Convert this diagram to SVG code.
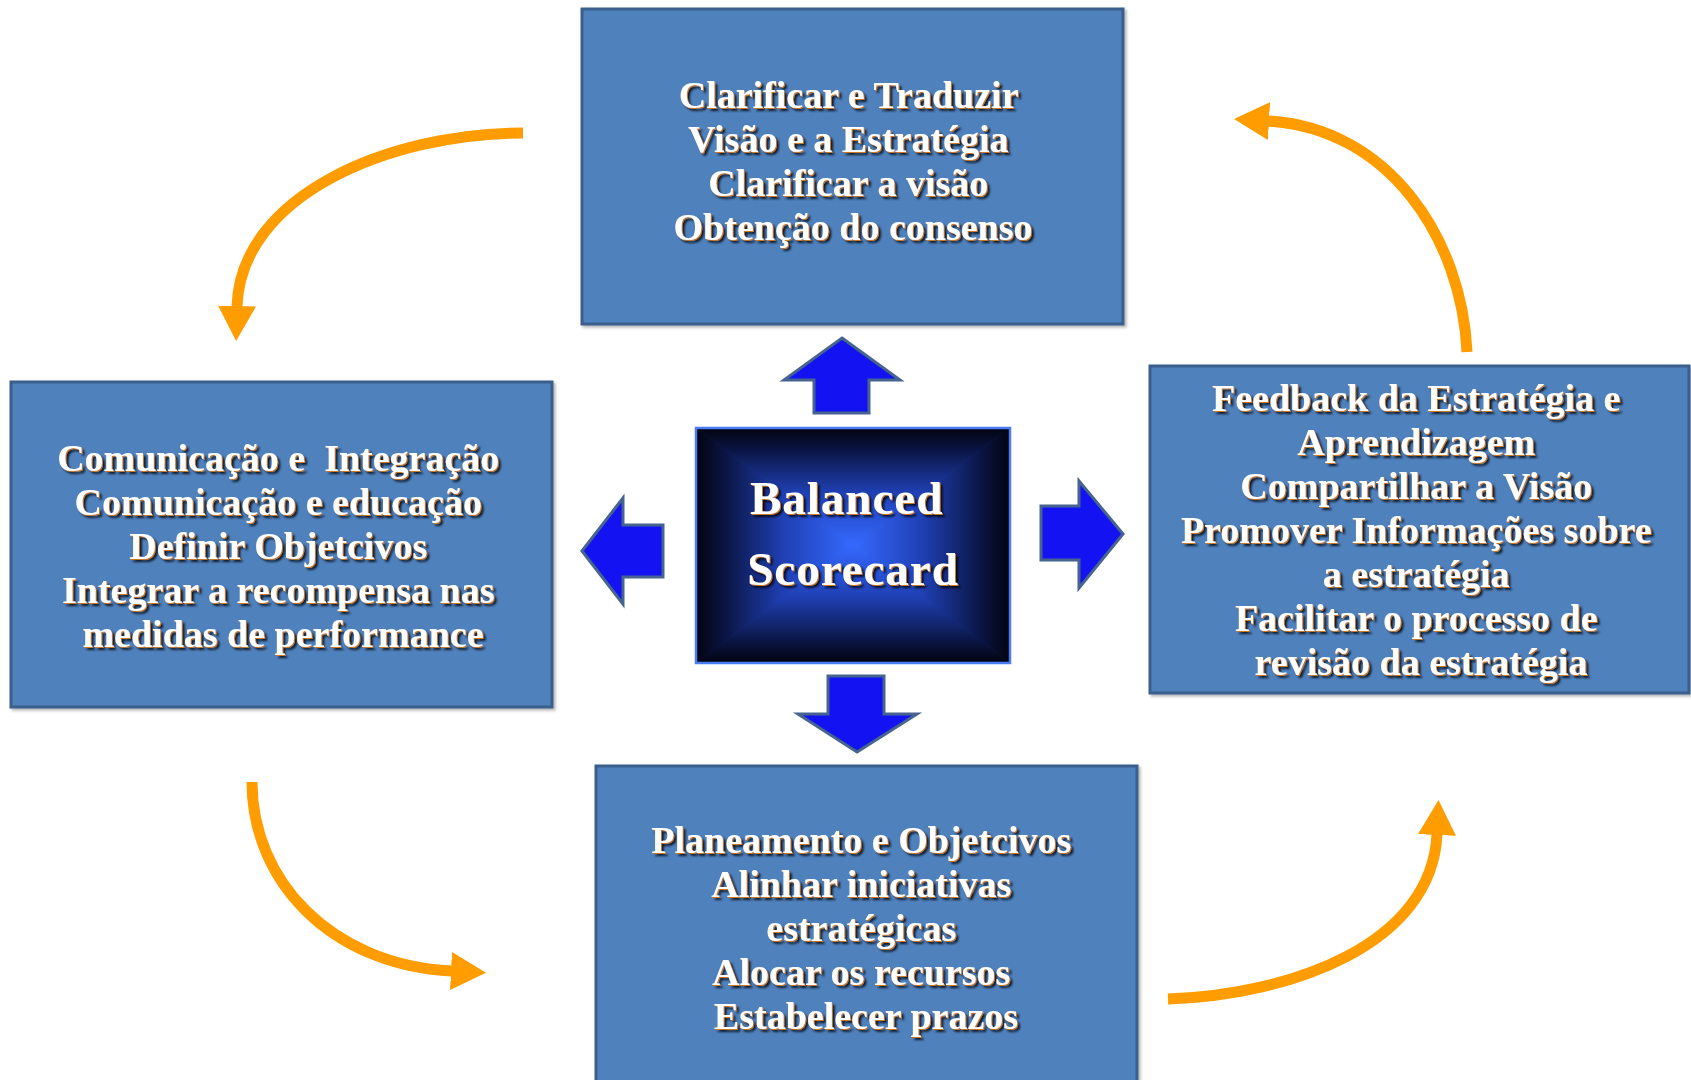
<svg xmlns="http://www.w3.org/2000/svg" width="1691" height="1080" viewBox="0 0 1691 1080">
  <defs>
    <style>
      .box { fill: #4f81bd; stroke: #3b5e8c; stroke-width: 3; filter: url(#boxShadow); }
      .label { font-family: "Liberation Serif", "Times New Roman", serif; font-weight: bold; font-size: 38px; fill: #ffffff; text-anchor: middle; filter: url(#emboss); }
      .core { font-size: 47px; letter-spacing: 1px; }
      .push { fill: #1212f2; stroke: #46648f; stroke-width: 3; stroke-linejoin: miter; }
      .cycle { fill: none; stroke: #ff9c00; stroke-width: 11; marker-end: url(#tip); }
    </style>
    <marker id="tip" viewBox="0 0 35 38" refX="1" refY="19" markerWidth="35" markerHeight="38" markerUnits="userSpaceOnUse" orient="auto">
      <path d="M0,0 L35,19 L0,38 Z" fill="#ff9c00"/>
    </marker>
    <filter id="boxShadow" x="-5%" y="-5%" width="115%" height="115%">
      <feDropShadow dx="2" dy="2" stdDeviation="1.5" flood-color="#000" flood-opacity="0.3"/>
    </filter>
    <filter id="emboss" x="-5%" y="-20%" width="115%" height="150%">
      <feOffset in="SourceAlpha" dx="2.5" dy="2.5" result="o1"/>
      <feGaussianBlur in="o1" stdDeviation="1" result="b1"/>
      <feFlood flood-color="#000" flood-opacity="0.8"/>
      <feComposite in2="b1" operator="in" result="sh"/>
      <feOffset in="SourceAlpha" dx="1" dy="1" result="o2"/>
      <feFlood flood-color="#c9782c"/>
      <feComposite in2="o2" operator="in" result="warm"/>
      <feMerge>
        <feMergeNode in="sh"/>
        <feMergeNode in="warm"/>
        <feMergeNode in="SourceGraphic"/>
      </feMerge>
    </filter>
    <!-- rectangular path gradient of the core box, built from four edge-to-centre wedges -->
    <linearGradient id="gTop" gradientUnits="userSpaceOnUse" x1="0" y1="428" x2="0" y2="545">
      <stop offset="0" stop-color="#02040f"/>
      <stop offset="0.18" stop-color="#0a1442"/>
      <stop offset="0.55" stop-color="#1f3fb2"/>
      <stop offset="1" stop-color="#3569ff"/>
    </linearGradient>
    <linearGradient id="gBottom" gradientUnits="userSpaceOnUse" x1="0" y1="663" x2="0" y2="545">
      <stop offset="0" stop-color="#02040f"/>
      <stop offset="0.18" stop-color="#0a1442"/>
      <stop offset="0.55" stop-color="#1f3fb2"/>
      <stop offset="1" stop-color="#3569ff"/>
    </linearGradient>
    <linearGradient id="gLeft" gradientUnits="userSpaceOnUse" x1="696" y1="0" x2="853" y2="0">
      <stop offset="0" stop-color="#02040f"/>
      <stop offset="0.18" stop-color="#0a1442"/>
      <stop offset="0.55" stop-color="#1f3fb2"/>
      <stop offset="1" stop-color="#3569ff"/>
    </linearGradient>
    <linearGradient id="gRight" gradientUnits="userSpaceOnUse" x1="1010" y1="0" x2="853" y2="0">
      <stop offset="0" stop-color="#02040f"/>
      <stop offset="0.18" stop-color="#0a1442"/>
      <stop offset="0.55" stop-color="#1f3fb2"/>
      <stop offset="1" stop-color="#3569ff"/>
    </linearGradient>
  </defs>

  <rect width="1691" height="1080" fill="#ffffff"/>

  <!-- cycle arrows between the four perspectives -->
  <g id="connectors">
    <path class="cycle" d="M523,133 C390,133 240,195 237,307"/>
    <path class="cycle" d="M1467,352 C1462,240 1390,128 1268,121"/>
    <path class="cycle" d="M252,782 C252,880 330,965 452,971"/>
    <path class="cycle" d="M1168,999 C1290,995 1432,945 1437,834"/>
    <!-- block arrows pushing out from the core -->
    <polygon class="push" points="842,338 900,380 869,380 869,413 814,413 814,380 784,380"/>
    <polygon class="push" points="582,551 623,498 623,525 663,525 663,577 623,577 623,604"/>
    <polygon class="push" points="1123,534 1079,481 1079,506 1041,506 1041,560 1079,560 1079,588"/>
    <polygon class="push" points="857,752 917,714 884,714 884,676 828,676 828,714 798,714"/>
  </g>

  <g id="node-top">
    <rect class="box" x="582" y="9" width="541" height="315"/>
    <text class="label" x="853">
      <tspan x="853" y="108">Clarificar e Traduzir</tspan>
      <tspan x="853" y="152">Visão e a Estratégia</tspan>
      <tspan x="853" y="196">Clarificar a visão</tspan>
      <tspan x="853" y="240">Obtenção do consenso</tspan>
    </text>
  </g>

  <g id="node-left">
    <rect class="box" x="11" y="382" width="541" height="325"/>
    <text class="label">
      <tspan x="283" y="471">Comunicação e&#160; Integração</tspan>
      <tspan x="283" y="515">Comunicação e educação</tspan>
      <tspan x="283" y="559">Definir Objetcivos</tspan>
      <tspan x="283" y="603">Integrar a recompensa nas</tspan>
      <tspan x="283" y="647">medidas de performance</tspan>
    </text>
  </g>

  <g id="node-right">
    <rect class="box" x="1150" y="366" width="539" height="327"/>
    <text class="label">
      <tspan x="1421" y="411">Feedback da Estratégia e</tspan>
      <tspan x="1421" y="455">Aprendizagem</tspan>
      <tspan x="1421" y="499">Compartilhar a Visão</tspan>
      <tspan x="1421" y="543">Promover Informações sobre</tspan>
      <tspan x="1421" y="587">a estratégia</tspan>
      <tspan x="1421" y="631">Facilitar o processo de</tspan>
      <tspan x="1421" y="675">revisão da estratégia</tspan>
    </text>
  </g>

  <g id="node-bottom">
    <rect class="box" x="596" y="766" width="541" height="330"/>
    <text class="label">
      <tspan x="866" y="853">Planeamento e Objetcivos</tspan>
      <tspan x="866" y="897">Alinhar iniciativas</tspan>
      <tspan x="866" y="941">estratégicas</tspan>
      <tspan x="866" y="985">Alocar os recursos</tspan>
      <tspan x="866" y="1029">Estabelecer prazos</tspan>
    </text>
  </g>

  <g id="node-core">
    <rect x="696" y="428" width="314" height="235" fill="#1a35a0"/>
    <g stroke-width="0.6">
      <polygon points="696,428 1010,428 853,545" fill="url(#gTop)" stroke="url(#gTop)"/>
      <polygon points="696,663 1010,663 853,545" fill="url(#gBottom)" stroke="url(#gBottom)"/>
      <polygon points="696,428 696,663 853,545" fill="url(#gLeft)" stroke="url(#gLeft)"/>
      <polygon points="1010,428 1010,663 853,545" fill="url(#gRight)" stroke="url(#gRight)"/>
    </g>
    <rect x="696" y="428" width="314" height="235" fill="none" stroke="#4b7cf5" stroke-width="2.5"/>
    <text class="label core">
      <tspan x="853" y="514">Balanced</tspan>
      <tspan x="853" y="585">Scorecard</tspan>
    </text>
  </g>
</svg>
